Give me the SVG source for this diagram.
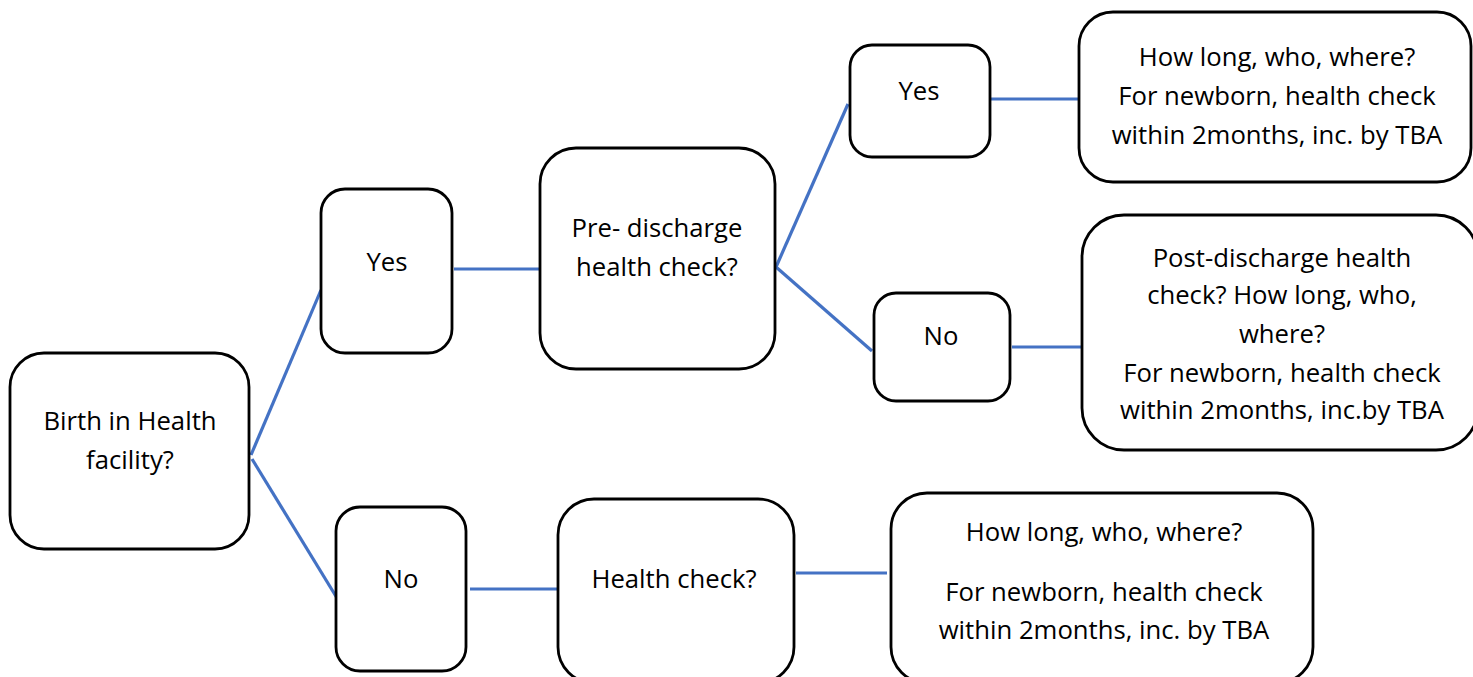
<svg xmlns="http://www.w3.org/2000/svg" width="1473" height="677" viewBox="0 0 1473 677">
<style>
.box{fill:#fff;stroke:#000;stroke-width:2.8}
.t{font-family:"Open Sans","Liberation Sans",sans-serif;font-size:25.7px;fill:#000;text-anchor:middle}
.c{stroke:#4472C4;stroke-width:3.2;fill:none}
</style>
<rect width="1473" height="677" fill="#fff"/>
<g id="connectors">
<line class="c" x1="251" y1="455" x2="321" y2="290"/>
<line class="c" x1="252" y1="459" x2="337" y2="598"/>
<line class="c" x1="454" y1="269" x2="542" y2="269"/>
<line class="c" x1="470" y1="589" x2="558" y2="589"/>
<line class="c" x1="776" y1="267" x2="848" y2="104"/>
<line class="c" x1="776" y1="267" x2="872" y2="351"/>
<line class="c" x1="991" y1="99" x2="1079" y2="99"/>
<line class="c" x1="1012" y1="347" x2="1084" y2="347"/>
<line class="c" x1="796" y1="573" x2="887" y2="573"/>
</g>
<g id="birth">
<rect class="box" x="10" y="353" width="239" height="196" rx="34"/>
<text class="t" x="130" y="430">Birth in Health</text>
<text class="t" x="130" y="469">facility?</text>
</g>
<g id="yes1">
<rect class="box" x="321" y="189" width="131" height="164" rx="24"/>
<text class="t" x="387" y="271">Yes</text>
</g>
<g id="no1">
<rect class="box" x="336" y="507" width="130" height="164" rx="24"/>
<text class="t" x="401" y="588">No</text>
</g>
<g id="predischarge">
<rect class="box" x="540" y="148" width="235" height="221" rx="36"/>
<text class="t" x="657" y="237">Pre- discharge</text>
<text class="t" x="657" y="276">health check?</text>
</g>
<g id="healthcheck">
<rect class="box" x="558" y="499" width="236" height="184" rx="36"/>
<text class="t" x="674" y="588">Health check?</text>
</g>
<g id="yes2">
<rect class="box" x="850" y="45" width="140" height="112" rx="22"/>
<text class="t" x="919" y="100">Yes</text>
</g>
<g id="no2">
<rect class="box" x="874" y="293" width="136" height="108" rx="22"/>
<text class="t" x="941" y="345">No</text>
</g>
<g id="boxA">
<rect class="box" x="1079" y="12" width="392" height="170" rx="34"/>
<text class="t" x="1277" y="66">How long, who, where?</text>
<text class="t" x="1277" y="105">For newborn, health check</text>
<text class="t" x="1277" y="144">within 2months, inc. by TBA</text>
</g>
<g id="boxB">
<rect class="box" x="1082" y="215" width="396" height="235" rx="42"/>
<text class="t" x="1282" y="267">Post-discharge health</text>
<text class="t" x="1282" y="304">check? How long, who,</text>
<text class="t" x="1282" y="343">where?</text>
<text class="t" x="1282" y="382">For newborn, health check</text>
<text class="t" x="1282" y="419">within 2months, inc.by TBA</text>
</g>
<g id="boxC">
<rect class="box" x="891" y="493" width="422" height="190" rx="36"/>
<text class="t" x="1104" y="541">How long, who, where?</text>
<text class="t" x="1104" y="601">For newborn, health check</text>
<text class="t" x="1104" y="639">within 2months, inc. by TBA</text>
</g>
</svg>
